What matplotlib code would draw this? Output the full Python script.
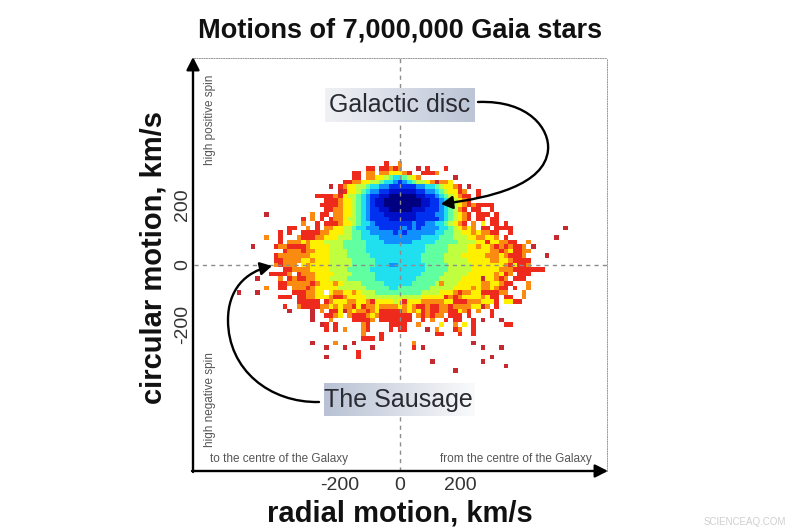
import matplotlib
matplotlib.use("Agg")
import matplotlib.pyplot as plt
import numpy as np
from matplotlib.colors import ListedColormap, BoundaryNorm, LinearSegmentedColormap
from matplotlib.patches import FancyArrowPatch
from matplotlib.path import Path

plt.rcParams['font.family'] = ['Liberation Sans', 'DejaVu Sans']

# star density, one row per bin, top row first
# "left|right" = bins left of v_R=0 | bins from v_R=0 to the right
# . empty, 1 (sparse, dark red) ... b (densest, navy)
density_rows = [
    "2..|3",
    "22.2232|3...1.2...2",
    "22.33.3344|432..2223",
    "22.3344567|76543.......1",
    "223344556778|987655431334",
    "1.2344556778899|99998877654432.1",
    "12445678899aa|aaaa99887654423..2",
    "22223245567899aabb|bbbbaa9987654322.2",
    "2223445678 9aabbb|bbbbbaa998765432".replace(" ", ""),
    "222234456789aabbb|bbbbbaa99876543232222",
    "22334456789 9aabb|bbbaaa999876532.22..2".replace(" ", ""),
    "1.........3.22.33445678999aaa|aaaa999988765432.222.2",
    "2.3.2.233455678 9999aa|aaaa99999876543 2.22.22".replace(" ", ""),
    "3..2.2223445677899999|99989988776543 2.3.4.22.2".replace(" ", ""),
    "22..3.2.3344556778889999|9898988887 7654343.22.2222...........1".replace(" ", ""),
    "2.2..222233444556677888889|8988888877665544343322..2",
    "3..2...3222334445556677778888|8888877776665554433443.2..........1",
    "2.333434445555666667777888|8887777766666555 5442443322..3".replace(" ", ""),
    "1....23322223444455566666 7777777|777777666665555443443232322 3.1".replace(" ", ""),
    "2333233444555566667777777|77777766666555544444332342233",
    "233333334444555566666777777|7777766666555544444333432223....1",
    "223333443444555556666677777|77777666665555544444334432222",
    "32333.434444555556666677788|77777766666555554444444324223",
    "2233334444555566666777777|77777766666555554444443332222222",
    "22223.2333444455556666677777|77777666665555544444 43423.222".replace(" ", ""),
    "1....3.2322334445555666666 77777|77776666655555444414432 3.222".replace(" ", ""),
    "22333332344434555566666777|7776666653555444443344322...3",
    "3..22.33323444445555556666677|66666665555544443433432 2.2..3".replace(" ", ""),
    "1...1.......2223344.433443455566666|666665555444323344222233...3",
    "222.2233444322344445555555|5555544444232344443422.22..3",
    "22222.2344433443244445|4244433333442223334442.4422",
    "2..3222233434332423343333|43432232233233334413.2",
    "1....1.3.224134332342222|2343423223322432.3..2",
    "1..2234.32223432222|222.323233.222.2....2",
    "1...3....22223.2222|222..2.3..2.22..2.1...1",
    "12.2.....32....22|22..3....4..3.4.2......22",
    "2.2.3...32....2.|22....1.3...23..2",
    "3...2...|........22...2..2",
    "222.2...|",
    "1....3...1.........|...3............1",
    "1...1.....1.....|...2.1............1...1",
    "2........|",
    "1......2........|....................1",
    "|.......1..........1",
    "|.......................1",
    "|............1",
]
level_chars = ".123456789ab"
level_colors = ["#c42a30", "#ee2a1c", "#fb8a10", "#fff000", "#c0ff40",
                "#60ffa0", "#20e0f0", "#1090ff", "#0030f0", "#0010c8", "#000080"]
bin_kms = 15.33
half_bins = 36

xtick_vals = [-200, 0, 200]
xtick_labels = ["-200", "0", "200"]
ytick_vals = [-200, 0, 200]
ytick_labels = ["-200", "0", "200"]


def px(x, y):
    # pixel position in the 800x530 picture -> figure fraction
    return x / 800, 1 - y / 530


def decode(rows):
    grid = np.full((len(rows), 2 * half_bins + 1), np.nan)
    for r, row in enumerate(rows):
        left, right = row.split("|")
        text = left.rjust(half_bins, ".")[-half_bins:] + right.ljust(half_bins + 1, ".")[:half_bins + 1]
        for c, ch in enumerate(text):
            lev = level_chars.index(ch)
            if lev > 0:
                grid[r, c] = lev
    return grid


grid = decode(density_rows)
x_edges = (np.arange(grid.shape[1] + 1) - half_bins - 0.5) * bin_kms
top_row = (len(density_rows) - 1) // 2
y_edges = (top_row + 0.5 - np.arange(grid.shape[0] + 1)) * bin_kms

fig = plt.figure(figsize=(8, 5.3), dpi=100, facecolor="white")
ax = fig.add_axes([194 / 800, 1 - 471 / 530, 413 / 800, 413 / 530])

cmap = ListedColormap(level_colors)
norm = BoundaryNorm(np.arange(0.5, 12.5), cmap.N)
ax.pcolormesh(x_edges, y_edges, grid, cmap=cmap, norm=norm, rasterized=True)
ax.set_xlim(-687, 690)
ax.set_ylim(-687, 690)

ax.axvline(0, color="#8c8c8c", lw=1, ls=(0, (3, 3)))
ax.axhline(0, color="#8c8c8c", lw=1, ls=(0, (3, 3)))

for side in ["top", "right"]:
    ax.spines[side].set_color("#999999")
    ax.spines[side].set_linewidth(0.7)
    ax.spines[side].set_linestyle((0, (1, 1.5)))
ax.spines["left"].set_visible(False)
ax.spines["bottom"].set_visible(False)

ax.set_xticks(xtick_vals, xtick_labels, fontsize=14, color="#333333")
ax.set_yticks(ytick_vals, ytick_labels, fontsize=14, color="#333333", rotation=90, va="center")
ax.tick_params(axis="x", length=0, pad=4.5)
ax.tick_params(axis="y", length=0, pad=2)

fig.text(*px(400, 30), "Motions of 7,000,000 Gaia stars", ha="center", va="center",
         fontsize=19.5, fontweight="bold", color="#111111")
fig.text(*px(400, 513), "radial motion, km/s", ha="center", va="center",
         fontsize=21, fontweight="bold", color="#111111")
fig.text(*px(153, 258), "circular motion, km/s", ha="center", va="center", rotation=90,
         fontsize=21, fontweight="bold", color="#111111")

small = dict(fontsize=8.5, color="#555555", va="center")
fig.text(*px(210, 120), "high positive spin", rotation=90, ha="center", **small)
fig.text(*px(210, 400), "high negative spin", rotation=90, ha="center", **small)
fig.text(*px(210, 459), "to the centre of the Galaxy", ha="left", **small)
fig.text(*px(592, 459), "from the centre of the Galaxy", ha="right", **small)
fig.text(*px(745, 522), "SCIENCEAQ.COM", ha="center", va="center", fontsize=7, color="#cfcfcf")


def gradient_box(x0, y0, x1, y1, left_col, right_col):
    lax = fig.add_axes([x0 / 800, 1 - y1 / 530, (x1 - x0) / 800, (y1 - y0) / 530], zorder=3)
    cm = LinearSegmentedColormap.from_list("g", [left_col, right_col])
    lax.imshow(np.linspace(0, 1, 64)[None, :], aspect="auto", cmap=cm)
    lax.axis("off")


gradient_box(325, 88, 475, 122, "#f0f1f5", "#bcc5d6")
gradient_box(324, 383, 475, 416, "#b8c2d4", "#fafafb")
fig.text(*px(400, 105), "Galactic disc", ha="center", va="center", fontsize=18, color="#2a2a32", zorder=5)
fig.text(*px(398, 400), "The Sausage", ha="center", va="center", fontsize=18, color="#2a2a32", zorder=5)

overlay = fig.add_axes([0, 0, 1, 1], zorder=4)
overlay.axis("off")
overlay.set_xlim(0, 800)
overlay.set_ylim(530, 0)


def curve(points):
    codes = [Path.MOVETO] + [Path.CURVE4] * (len(points) - 1)
    patch = FancyArrowPatch(path=Path(points, codes), transform=overlay.transData,
                            arrowstyle="-|>,head_length=5,head_width=2.8", color="black",
                            lw=1.7, shrinkA=0, shrinkB=0, mutation_scale=1.4)
    overlay.add_patch(patch)


curve([(478, 102), (530, 100), (550, 130), (548, 150),
       (545, 185), (490, 198), (441, 204)])
curve([(319, 402), (270, 403), (228, 370), (228, 320),
       (228, 290), (245, 272), (272, 266)])
# axis arrows
axis_arrow = dict(arrowstyle="-|>,head_length=0.55,head_width=0.28", lw=1.7, color="black",
                  shrinkA=0, shrinkB=0, mutation_scale=14)
overlay.annotate("", xy=(193, 57), xytext=(193, 472), arrowprops=axis_arrow)
overlay.annotate("", xy=(608, 471), xytext=(192, 471), arrowprops=axis_arrow)

fig.savefig("out.png", dpi=100)
